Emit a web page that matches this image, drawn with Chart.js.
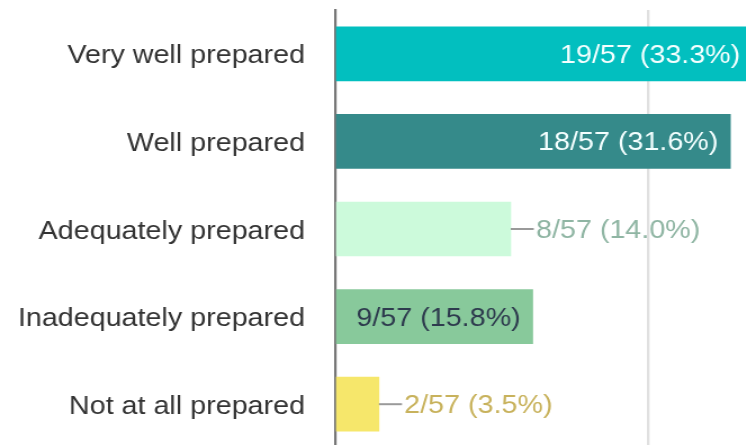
<!DOCTYPE html>
<html>
<head>
<meta charset="utf-8">
<script src="https://cdn.jsdelivr.net/npm/chart.js@4/dist/chart.umd.min.js"></script>
<style>
  html, body { margin: 0; padding: 0; background: #fff; overflow: hidden; width: 746px; height: 445px; }
  #wrap { position: absolute; left: 0; top: 0; width: 880px; height: 448px; transform: scaleX(1.125); transform-origin: 0 0; }
  #c { display: block; }
</style>
</head>
<body>
<div id="wrap"><canvas id="c" width="880" height="448"></canvas></div>
<script>
// ---- data ----
const categories = ["Very well prepared", "Well prepared", "Adequately prepared", "Inadequately prepared", "Not at all prepared"];
const counts = [19, 18, 8, 9, 2];
const total = 57;

// ---- styles ----
const barColors = ["#02bfbf", "#358a8a", "#ccfadb", "#88c99b", "#f6e76b"];
const labelInside = [true, true, false, true, false];
const labelColors = ["#f4ffff", "#f4ffff", "#8fb5a3", "#2e3b4e", "#c8b25c"];

const percents = counts.map(c => c / total * 100);
const FONT = '"Liberation Sans", Arial, sans-serif';

const labelPlugin = {
  id: 'barLabels',
  afterDatasetsDraw(chart) {
    const ctx = chart.ctx;
    const meta = chart.getDatasetMeta(0);
    ctx.save();
    ctx.font = '25.5px ' + FONT;
    ctx.textBaseline = 'middle';
    meta.data.forEach((bar, i) => {
      const text = counts[i] + '/' + total + ' (' + percents[i].toFixed(1) + '%)';
      const right = bar.x, y = bar.y;
      if (labelInside[i]) {
        ctx.textAlign = 'right';
        ctx.fillStyle = labelColors[i];
        ctx.fillText(text, right - 10.7, y + 2);
      } else {
        ctx.strokeStyle = '#9a9a9a';
        ctx.lineWidth = 2;
        ctx.beginPath();
        ctx.moveTo(right, y);
        ctx.lineTo(right + 20.5, y);
        ctx.stroke();
        ctx.textAlign = 'left';
        ctx.fillStyle = labelColors[i];
        ctx.fillText(text, right + 22.5, y + 2);
      }
    });
    ctx.restore();
  }
};

new Chart(document.getElementById('c'), {
  type: 'bar',
  data: {
    labels: categories,
    datasets: [{
      data: percents,
      backgroundColor: barColors,
      borderWidth: 0,
      barThickness: 54
    }]
  },
  options: {
    indexAxis: 'y',
    responsive: false,
    maintainAspectRatio: false,
    animation: false,
    devicePixelRatio: 1,
    layout: { padding: { top: 10, right: 25.8, bottom: 0, left: 0 } },
    plugins: { legend: { display: false }, tooltip: { enabled: false } },
    scales: {
      x: {
        min: 0, max: 50,
        afterFit(scale) { scale.height = 0; },
        ticks: { display: false, stepSize: 25 },
        grid: {
          color: ctx => ctx.tick && ctx.tick.value === 0 ? 'rgba(0,0,0,0)' : '#e0e0e0',
          lineWidth: 2.4,
          drawTicks: false
        },
        border: { display: false }
      },
      y: {
        afterFit(scale) { scale.width = 297.8; scale.paddingTop = 0; scale.paddingBottom = 0; },
        ticks: {
          color: '#333333',
          padding: 26.7,
          labelOffset: 2.5,
          font: { family: FONT, size: 25.5 }
        },
        grid: { display: false, drawTicks: false },
        border: { display: true, color: '#777777', width: 2.2 }
      }
    }
  },
  plugins: [labelPlugin]
});
</script>
</body>
</html>
